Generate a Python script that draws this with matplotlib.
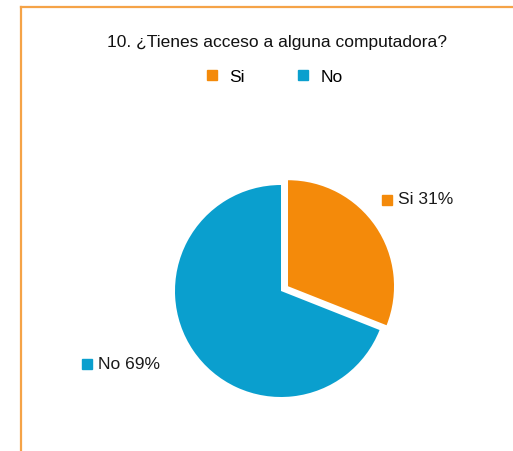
import matplotlib
matplotlib.use("Agg")
import matplotlib.pyplot as plt
from matplotlib.lines import Line2D

plt.rcParams['font.family'] = ['Liberation Sans', 'DejaVu Sans']

title = "10. ¿Tienes acceso a alguna computadora?"
categories = ["Si", "No"]
values = [31, 69]
colors = ["#F48A0A", "#0A9FCE"]
explode = [0.08, 0.0]

W, H = 513, 451
fig = plt.figure(figsize=(W / 100, H / 100), dpi=100)
fig.patch.set_facecolor("white")

# orange frame (left and top)
border = "#F5A347"
fig.add_artist(Line2D([21 / W, 21 / W], [0, 1 - 7 / H], color=border, lw=1.6))
fig.add_artist(Line2D([21 / W, 1], [1 - 7 / H, 1 - 7 / H], color=border, lw=1.6))

# pie axes: centre (281, 291) px, radius 106 px
cx, cy, r = 281, 291, 106
lim = 1.2
size = 2 * lim * r
ax = fig.add_axes([(cx - size / 2) / W, (H - cy - size / 2) / H, size / W, size / H])
ax.pie(values, colors=colors, startangle=90, counterclock=False,
       explode=explode, radius=1.0, wedgeprops=dict(linewidth=0))
ax.set_xlim(-lim, lim)
ax.set_ylim(-lim, lim)
ax.set_aspect("equal")
ax.axis("off")

# data labels: marker position and text position (data units)
label_pos = [(1.0, 0.86), (-1.83, -0.69)]
for cat, val, col, (lx, ly) in zip(categories, values, colors, label_pos):
    ax.plot([lx], [ly], marker="s", markersize=6.5, color=col, clip_on=False,
            linestyle="none")
    ax.text(lx + 0.1, ly, f"{cat} {val}%", fontsize=12.5, color="#1a1a1a",
            va="center", ha="left", clip_on=False)

# title
fig.text(277 / W, 1 - 42 / H, title, fontsize=12.5, ha="center", va="center",
         color="#111111")

# legend
handles = [Line2D([0], [0], marker="s", linestyle="none", markersize=7,
                  color=c) for c in colors]
fig.legend(handles, categories, loc="center", bbox_to_anchor=(273 / W, 1 - 77 / H),
           ncol=2, frameon=False, fontsize=12.5, handletextpad=0.5,
           columnspacing=2.9, handlelength=1.0)

fig.savefig("out.png", dpi=100, facecolor="white")
